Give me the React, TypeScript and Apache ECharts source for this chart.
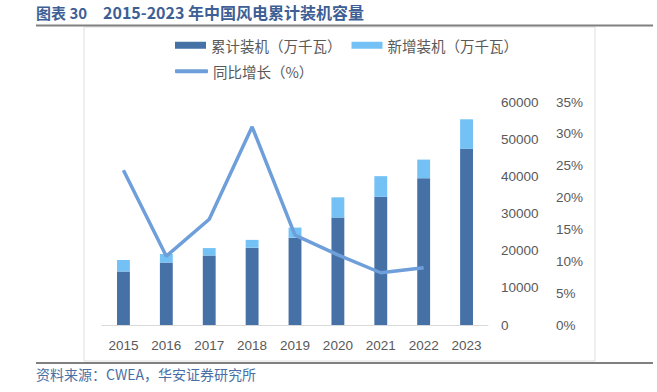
import React, { useEffect, useRef } from "react";
import * as echarts from "echarts";

const years = ["2015", "2016", "2017", "2018", "2019", "2020", "2021", "2022", "2023"];
const cumulative = [14400, 16800, 18700, 20800, 23500, 28900, 34500, 39500, 47400];
const newAdded = [3100, 2300, 2000, 2100, 2700, 5450, 5550, 5000, 7950];
const growth: (number | null)[] = [24.3, 10.8, 16.6, 31.1, 14.1, 11.0, 8.2, 9.0, null];

const NAME_CUM = "累计装机（万千瓦）";
const NAME_NEW = "新增装机（万千瓦）";
const NAME_GROWTH = "同比增长（%）";

const FONT = "'Noto Sans CJK SC', 'Noto Sans', sans-serif";
const NUM_FONT = "Arial, 'Liberation Sans', sans-serif";

export default function App() {
  const ref = useRef<HTMLDivElement>(null);
  useEffect(() => {
    if (!ref.current) return;
    const chart = echarts.init(ref.current, undefined, { renderer: "svg" });
    chart.setOption({
      animation: false,
      backgroundColor: "#ffffff",
      textStyle: { fontFamily: FONT },
      grid: { left: 102, right: 169, top: 102, bottom: 67 },
      legend: [
        {
          data: [NAME_CUM, NAME_NEW],
          left: 175,
          top: 38,
          padding: 0,
          itemWidth: 31,
          itemHeight: 7,
          itemGap: 10,
          icon: "rect",
          textStyle: { fontSize: 14.5, color: "#595959", fontFamily: FONT },
        },
        {
          data: [{ name: NAME_GROWTH, icon: "roundRect" }],
          left: 175,
          top: 64,
          padding: 0,
          itemWidth: 33,
          itemHeight: 4,
          textStyle: { fontSize: 14.5, color: "#595959", fontFamily: FONT },
        },
      ],
      xAxis: {
        type: "category",
        data: years,
        axisLine: { lineStyle: { color: "#d9d9d9", width: 1 } },
        axisTick: { show: false },
        axisLabel: { color: "#595959", fontSize: 13.5, margin: 13, fontFamily: NUM_FONT },
      },
      yAxis: [
        {
          type: "value",
          position: "right",
          min: 0,
          max: 60000,
          interval: 10000,
          splitLine: { show: false },
          axisLine: { show: false },
          axisTick: { show: false },
          axisLabel: {
            color: "#595959",
            fontSize: 13.5,
            margin: 13,
            fontFamily: NUM_FONT,
            formatter: (v: number) => String(v),
          },
        },
        {
          type: "value",
          position: "right",
          offset: 55,
          min: 0,
          max: 35,
          interval: 5,
          splitLine: { show: false },
          axisLine: { show: false },
          axisTick: { show: false },
          axisLabel: {
            color: "#595959",
            fontSize: 13.5,
            margin: 13,
            formatter: "{value}%",
            fontFamily: NUM_FONT,
          },
        },
      ],
      series: [
        {
          name: NAME_CUM,
          type: "bar",
          stack: "total",
          data: cumulative,
          barWidth: "30%",
          itemStyle: { color: "#4571a6" },
        },
        {
          name: NAME_NEW,
          type: "bar",
          stack: "total",
          data: newAdded,
          barWidth: "30%",
          itemStyle: { color: "#74c2f5" },
        },
        {
          name: NAME_GROWTH,
          type: "line",
          yAxisIndex: 1,
          data: growth,
          symbol: "none",
          connectNulls: false,
          lineStyle: { color: "#6f9fdb", width: 3.5 },
          itemStyle: { color: "#6f9fdb" },
          z: 5,
        },
      ],
      graphic: [
        {
          type: "text",
          left: 36,
          top: 5,
          style: {
            text: "图表 30",
            fontSize: 15,
            fontWeight: "bold",
            fill: "#3e5f95",
            fontFamily: FONT,
          },
        },
        {
          type: "text",
          left: 103,
          top: 4,
          style: {
            text: "2015-2023 年中国风电累计装机容量",
            fontSize: 16,
            fontWeight: "bold",
            fill: "#3e5f95",
            fontFamily: FONT,
          },
        },
        {
          type: "line",
          shape: { x1: 36, y1: 25.5, x2: 653, y2: 25.5 },
          style: { stroke: "#808080", lineWidth: 2 },
        },
        {
          type: "rect",
          shape: { x: 84, y: 27, width: 511, height: 334 },
          style: { fill: "none", stroke: "#dedede", lineWidth: 1 },
          z: -1,
        },
        {
          type: "line",
          shape: { x1: 36, y1: 363, x2: 653, y2: 363 },
          style: { stroke: "#808080", lineWidth: 2 },
        },
        {
          type: "text",
          left: 36,
          top: 367,
          style: {
            text: "资料来源：CWEA，华安证券研究所",
            fontSize: 14,
            fill: "#4a6fa5",
            fontFamily: FONT,
          },
        },
      ],
    });
    return () => chart.dispose();
  }, []);
  return (
    <div
      ref={ref}
      style={{ position: "fixed", left: 0, top: 0, width: 657, height: 392 }}
    />
  );
}
